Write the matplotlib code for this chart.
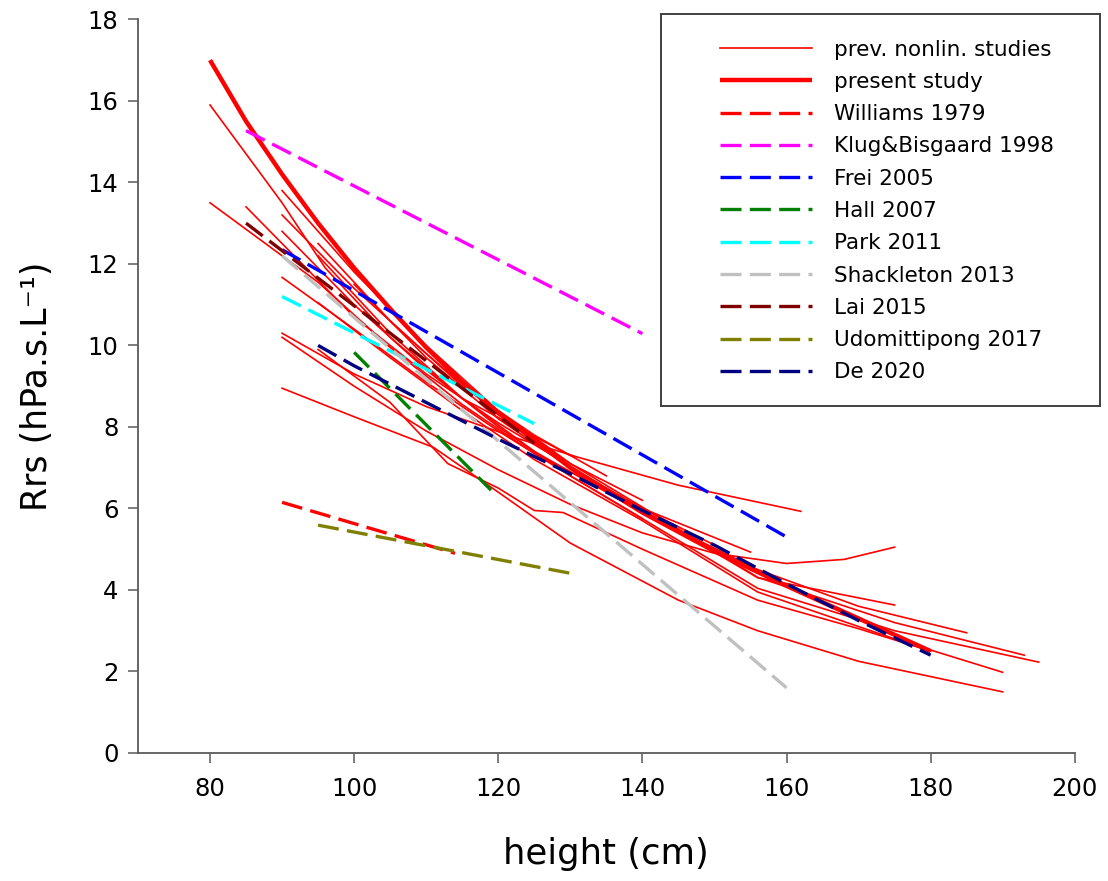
import matplotlib
matplotlib.use('Agg')
import matplotlib.pyplot as plt
from matplotlib.patches import Rectangle

# previous non-linear studies: (height cm, Rrs)
prev_studies = [
    ([80, 90, 96, 105, 115, 125, 140, 156, 170, 185], [15.9, 13.5, 11.9, 10.2, 8.7, 7.4, 5.9, 4.5, 3.6, 2.95]),
    ([80, 95, 105, 115, 125, 140, 155], [13.5, 11.55, 9.95, 8.55, 7.35, 6.0, 4.93]),
    ([85, 100, 110, 120, 135, 156, 175], [13.4, 10.7, 9.3, 8.1, 6.5, 4.3, 3.63]),
    ([90, 100, 110, 120, 130, 145, 156, 175, 193], [13.8, 11.8, 10.0, 8.4, 7.1, 5.5, 4.31, 3.2, 2.4]),
    ([90, 100, 110, 120, 130, 140], [13.2, 11.4, 9.8, 8.3, 7.1, 6.2]),
    ([90, 100, 110, 120, 130, 140, 156, 175, 195], [12.8, 11.0, 9.4, 8.0, 6.8, 5.75, 4.04, 3.0, 2.23]),
    ([95, 105, 115, 130], [12.2, 10.3, 8.7, 7.3]),
    ([95, 105, 115, 125, 140, 156, 175, 190], [11.05, 9.7, 8.4, 7.2, 5.7, 3.95, 2.8, 1.98]),
    ([90, 100, 110, 123, 131, 145, 162], [10.3, 9.3, 8.5, 7.7, 7.26, 6.57, 5.93]),
    ([90, 100, 110, 120, 130, 140, 150, 160, 168, 175], [10.2, 9.0, 7.9, 6.95, 6.1, 5.4, 4.9, 4.65, 4.75, 5.05]),
    ([90, 100, 111, 120, 130, 145, 156, 170, 190], [8.95, 8.25, 7.5, 6.4, 5.15, 3.75, 3.0, 2.25, 1.5]),
    ([95, 105, 113, 120, 125, 129, 140, 156, 170, 180], [9.9, 8.6, 7.1, 6.5, 5.95, 5.9, 5.0, 3.75, 3.05, 2.5]),
    ([90, 100, 110, 120, 130, 140], [11.67, 10.4, 9.1, 7.9, 6.8, 5.75]),
    ([100, 110, 120, 130, 140, 150], [11.5, 9.7, 8.2, 7.0, 6.0, 5.1]),
    ([95, 105, 115, 125, 135], [12.5, 10.6, 9.0, 7.8, 6.8]),
]

present_x = [80, 85, 90, 95, 100, 105, 110, 115, 120, 130, 140, 150, 160, 170, 180]
present_y = [17.0, 15.5, 14.2, 13.0, 11.9, 10.9, 9.95, 9.1, 8.35, 7.0, 5.9, 4.95, 4.1, 3.3, 2.5]

# linear / regression equations from the literature
lit_labels = ['Williams 1979', 'Klug&Bisgaard 1998', 'Frei 2005', 'Hall 2007', 'Park 2011',
              'Shackleton 2013', 'Lai 2015', 'Udomittipong 2017', 'De 2020']
lit_colors = ['#FF0000', '#FF00FF', '#0000FF', '#008000', '#00FFFF',
              '#C0C0C0', '#800000', '#808000', '#000080']
lit_x = [
    [90, 114],
    [85, 140],
    [90, 160],
    [100, 119],
    [90, 125],
    [90, 160],
    [85, 125],
    [95, 130],
    [95, 100, 110, 120, 130, 140, 150, 160, 170, 180],
]
lit_y = [
    [6.15, 4.9],
    [15.27, 10.29],
    [12.35, 5.3],
    [9.83, 6.45],
    [11.2, 8.08],
    [12.2, 1.6],
    [13.0, 7.6],
    [5.59, 4.41],
    [10.0, 9.5, 8.6, 7.7, 6.85, 5.95, 5.1, 4.15, 3.25, 2.4],
]

fig = plt.figure(figsize=(11.08, 8.81), dpi=100)
ax = fig.add_axes([0.1245, 0.1453, 0.8455, 0.8327])

handles = []
for i, (x, y) in enumerate(prev_studies):
    h, = ax.plot(x, y, color='#FF0000', lw=1.2)
    if i == 0:
        handles.append(h)
h, = ax.plot(present_x, present_y, color='#FF0000', lw=3.2, solid_capstyle='butt')
handles.append(h)
for x, y, c in zip(lit_x, lit_y, lit_colors):
    h, = ax.plot(x, y, color=c, lw=2.4, dashes=(6.3, 2.5), dash_capstyle='butt')
    handles.append(h)

ax.set_xlim(70, 200)
ax.set_ylim(0, 18)
ax.set_xticks(range(80, 201, 20))
ax.set_yticks(range(0, 19, 2))
for s in ['top', 'right']:
    ax.spines[s].set_visible(False)
for s in ['left', 'bottom']:
    ax.spines[s].set_color('#5a5a5a')
    ax.spines[s].set_linewidth(1.3)
ax.tick_params(direction='out', length=7, width=1.1, color='#5a5a5a', labelsize=17.5)
ax.tick_params(axis='x', pad=10)
ax.tick_params(axis='y', pad=7)
ax.set_xlabel('height (cm)', fontsize=25.5, labelpad=26)
ax.set_ylabel('Rrs (hPa.s.L⁻¹)', fontsize=25, labelpad=24)

labels = ['prev. nonlin. studies', 'present study'] + lit_labels
fig.legend(handles, labels, loc='upper left', bbox_to_anchor=(0.6498, 0.955),
           frameon=False, fontsize=15.5, handlelength=4.28, handletextpad=1.02,
           labelspacing=0.57, borderpad=0, borderaxespad=0)
fig.patches.append(Rectangle((0.5966, 0.5392), 0.3962, 0.445, transform=fig.transFigure,
                             fill=False, edgecolor='#404040', lw=1.4))

fig.savefig('out.png', dpi=100)
